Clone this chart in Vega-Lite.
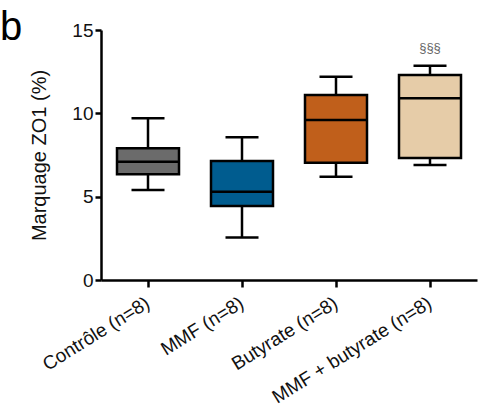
{
  "$schema": "https://vega.github.io/schema/vega-lite/v6.json",
  "autosize": "none",
  "width": 376,
  "height": 250,
  "padding": {"left": 101, "top": 30, "right": 14, "bottom": 137},
  "background": "white",
  "config": {"view": {"stroke": null}, "font": "Liberation Sans"},
  "title": {"text": "b", "anchor": "start", "frame": "group", "dx": -101, "dy": 55, "offset": -4, "fontSize": 40, "fontWeight": "normal", "font": "Liberation Sans", "color": "#000", "baseline": "alphabetic"},
  "data": {"values": [
    {"group": "Contrôle (n=8)", "min": 5.4, "q1": 6.34, "median": 7.1, "q3": 7.9, "max": 9.7, "color": "#6b6b6b", "note": ""},
    {"group": "MMF (n=8)", "min": 2.55, "q1": 4.44, "median": 5.3, "q3": 7.14, "max": 8.56, "color": "#005c8f", "note": ""},
    {"group": "Butyrate (n=8)", "min": 6.2, "q1": 7.04, "median": 9.6, "q3": 11.1, "max": 12.2, "color": "#c05f1b", "note": ""},
    {"group": "MMF + butyrate (n=8)", "min": 6.9, "q1": 7.32, "median": 10.9, "q3": 12.3, "max": 12.86, "color": "#e6cca8", "note": "§§§", "noteY": 13.95}
  ]},
  "encoding": {
    "x": {"field": "group", "type": "nominal", "sort": null,
      "scale": {"paddingInner": 0, "paddingOuter": 0},
      "axis": {"title": null, "labelAngle": -32, "labelAlign": "right", "labelBaseline": "middle", "labelFontSize": 19, "labelColor": "#111", "labelPadding": 14, "domainColor": "#000", "domainWidth": 2.5, "tickColor": "#000", "tickWidth": 2.5, "tickSize": 7, "labelFont": "Liberation Sans", "labelLimit": 400}}
  },
  "layer": [
    {"mark": {"type": "rule", "color": "#000", "strokeWidth": 2.5},
     "encoding": {"y": {"field": "min", "type": "quantitative", "scale": {"domain": [0, 15], "nice": false},
        "axis": {"title": "Marquage ZO1 (%)", "values": [0, 5, 10, 15], "titleFontSize": 20, "titleFontWeight": "normal", "titleColor": "#111", "titlePadding": 22, "labelFontSize": 19, "labelColor": "#111", "labelPadding": 2, "domainColor": "#000", "domainWidth": 2.5, "tickColor": "#000", "tickWidth": 2.5, "tickSize": 6, "grid": false, "labelFont": "Liberation Sans", "titleFont": "Liberation Sans"}},
       "y2": {"field": "max"}}},
    {"mark": {"type": "tick", "color": "#000", "size": 33, "thickness": 2.5, "opacity": 1},
     "encoding": {"y": {"field": "min", "type": "quantitative"}}},
    {"mark": {"type": "tick", "color": "#000", "size": 33, "thickness": 2.5, "opacity": 1},
     "encoding": {"y": {"field": "max", "type": "quantitative"}}},
    {"mark": {"type": "bar", "width": 62, "stroke": "#000", "strokeWidth": 2.5, "opacity": 1},
     "encoding": {"y": {"field": "q1", "type": "quantitative"}, "y2": {"field": "q3"},
       "fill": {"field": "color", "type": "nominal", "scale": null}}},
    {"mark": {"type": "tick", "color": "#000", "size": 62, "thickness": 2.5, "opacity": 1},
     "encoding": {"y": {"field": "median", "type": "quantitative"}}},
    {"mark": {"type": "text", "fontSize": 13, "color": "#666", "font": "Liberation Sans"},
     "encoding": {"y": {"field": "noteY", "type": "quantitative"}, "text": {"field": "note"}}}
  ]
}
